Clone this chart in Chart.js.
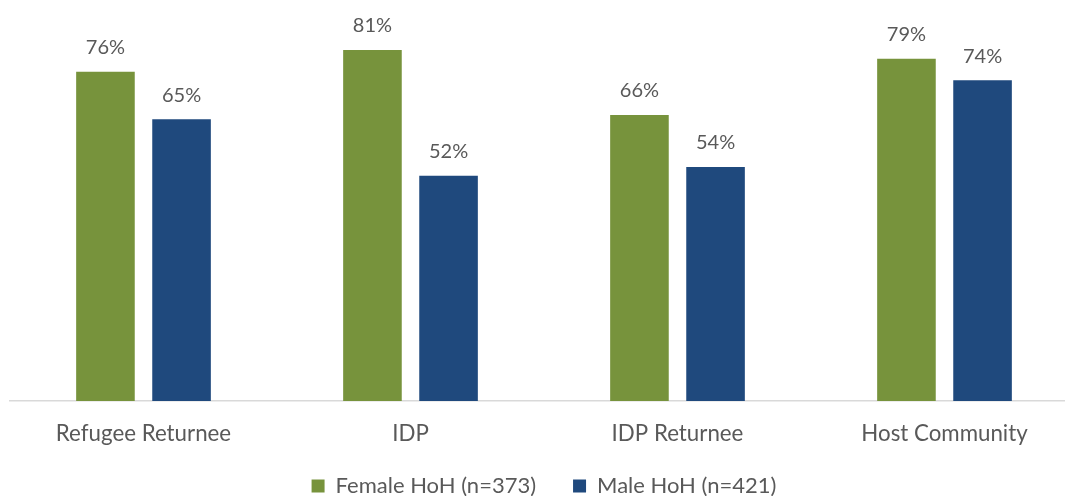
<!DOCTYPE html>
<html><head><meta charset="utf-8">
<script src="https://cdn.jsdelivr.net/npm/chart.js@4/dist/chart.umd.min.js"></script>
<style>html,body{margin:0;padding:0;overflow:hidden;background:#fff}#wrap{width:1078px;height:496px;position:relative}</style>
</head><body><div id="wrap"><canvas id="c"></canvas></div>
<script>
const categories = ["Refugee Returnee", "IDP", "IDP Returnee", "Host Community"];
const femaleValues = [76, 81, 66, 79];
const maleValues = [65, 52, 54, 74];
const seriesNames = ["Female HoH (n=373)", "Male HoH (n=421)"];
const FONT = "Lato, 'Open Sans', sans-serif";
const TXT = "#595959";

const labelPlugin = {
  id: 'vlabels',
  afterInit(chart) {
    const lg = chart.legend;
    if (lg && !lg._patched) {
      const orig = lg.fit.bind(lg);
      lg.fit = function () { orig(); this.height = 58; };
      lg._patched = true;
    }
  },
  afterDatasetsDraw(chart) {
    const ctx = chart.ctx;
    ctx.save();
    ctx.font = "20px " + FONT;
    ctx.fillStyle = TXT;
    ctx.textAlign = "center";
    ctx.textBaseline = "middle";
    chart.data.datasets.forEach((ds, i) => {
      chart.getDatasetMeta(i).data.forEach((bar, j) => {
        ctx.fillText(ds.data[j] + "%", bar.x, bar.y - 24);
      });
    });
    ctx.restore();
  }
};

new Chart(document.getElementById('c'), {
  type: 'bar',
  data: {
    labels: categories,
    datasets: [
      { label: seriesNames[0], data: femaleValues, backgroundColor: "#77933C" },
      { label: seriesNames[1], data: maleValues, backgroundColor: "#1F497D" }
    ]
  },
  options: {
    responsive: true,
    maintainAspectRatio: false,
    animation: false,
    layout: { padding: { left: 10, right: 0, top: 11, bottom: 0 } },
    datasets: { bar: { categoryPercentage: 0.57, barPercentage: 0.77 } },
    scales: {
      x: {
        grid: { display: false, drawTicks: false },
        border: { display: true, color: "#D9D9D9", width: 1.5 },
        ticks: { color: TXT, font: { family: FONT, size: 22.3 }, padding: 19 },
        afterFit: (scale) => {
          scale.height = 37;
          scale._computeLabelArea = () => undefined;
        }
      },
      y: { display: false, min: 0, max: 90 }
    },
    plugins: {
      legend: {
        position: 'bottom',
        labels: { color: TXT, font: { family: FONT, size: 22 }, boxWidth: 13, boxHeight: 13, padding: 37 }
      },
      tooltip: { enabled: false }
    }
  },
  plugins: [labelPlugin]
});
</script></body></html>
